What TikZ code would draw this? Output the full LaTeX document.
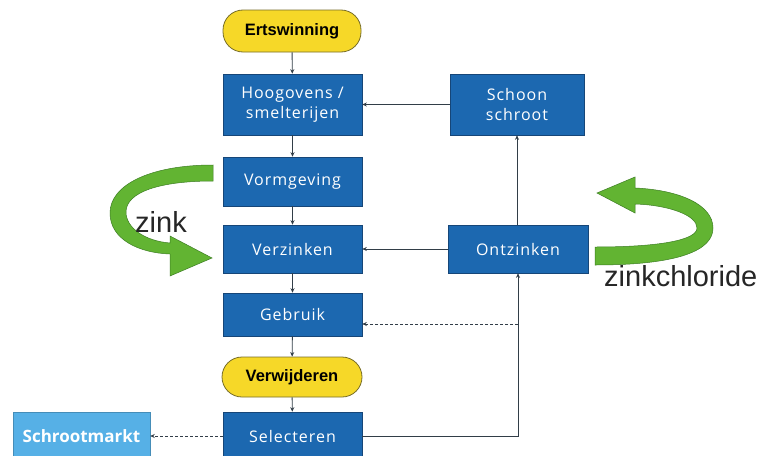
\documentclass[tikz,border=0pt]{standalone}
\usepackage{fontspec}
\setmainfont{Liberation Sans}
\newfontfamily\boxfont[LetterSpace=6]{Open Sans}
\newfontfamily\markfont{Open Sans}
\usetikzlibrary{arrows.meta}
\definecolor{boxblue}{RGB}{28,104,176}
\definecolor{boxedge}{RGB}{22,70,120}
\definecolor{lightblue}{RGB}{86,176,230}
\definecolor{pillyellow}{RGB}{246,216,40}
\definecolor{pilledge}{RGB}{120,110,40}
\definecolor{linecol}{RGB}{50,62,72}
\definecolor{ribbongreen}{RGB}{98,180,50}
\definecolor{ribbonedge}{RGB}{60,125,35}
\tikzset{
  bluebox/.style={draw=boxedge, line width=0.6pt, fill=boxblue, text=white,
    font=\boxfont\fontsize{16}{20}\selectfont, align=center, inner sep=0pt},
  pill/.style={draw=pilledge, line width=0.8pt, fill=pillyellow, rounded corners=20pt,
    font=\bfseries\fontsize{16.5}{18}\selectfont, inner sep=0pt},
  marketbox/.style={draw=lightblue!80!black, line width=0.5pt, fill=lightblue, text=white,
    font=\markfont\bfseries\fontsize{17}{20}\selectfont, inner sep=0pt},
  conn/.style={draw=linecol, line width=0.9pt, -{Stealth[length=4.5pt,width=4pt]}},
  dconn/.style={conn, dash pattern=on 3pt off 2pt},
  ribbon/.style={fill=ribbongreen, draw=ribbonedge, line width=0.5pt},
  biglabel/.style={font=\fontsize{29}{32}\selectfont, text=black!85, inner sep=0pt}
}
\begin{document}
\begin{tikzpicture}[x=1pt,y=-1pt]
\useasboundingbox (0,0) rectangle (760,455);
\clip (0,0) rectangle (760,455);
\fill[white] (0,0) rectangle (760,455);

% nodes
\node[pill, minimum width=138pt, minimum height=42pt] (ert) at (292,31) {Ertswinning};
\node[bluebox, minimum width=139pt, minimum height=61pt] (hoog) at (292.5,104.5) {Hoogovens /\\smelterijen};
\node[bluebox, minimum width=134pt, minimum height=61pt] (schoon) at (517,104.5) {Schoon\\schroot};
\node[bluebox, minimum width=139pt, minimum height=49pt] (vorm) at (292.5,181.5) {Vormgeving};
\node[bluebox, minimum width=139pt, minimum height=48pt] (verz) at (292.5,249) {Verzinken};
\node[bluebox, minimum width=140pt, minimum height=48pt] (ontz) at (518,249) {Ontzinken};
\node[bluebox, minimum width=139pt, minimum height=43pt] (gebr) at (292.5,314.5) {Gebruik};
\node[pill, minimum width=140pt, minimum height=40pt] (verw) at (292,377) {Verwijderen};
\node[bluebox, minimum width=139pt, minimum height=48pt] (sel) at (292.5,436) {Selecteren};
\node[marketbox, minimum width=137pt, minimum height=48pt] (markt) at (81.5,436) {Schrootmarkt};

% main flow
\draw[conn] (ert) -- (hoog);
\draw[conn] (hoog) -- (vorm);
\draw[conn] (vorm) -- (verz);
\draw[conn] (verz) -- (gebr);
\draw[conn] (gebr) -- (verw);
\draw[conn] (verw) -- (sel);

% recycling
\draw[conn] (schoon) -- (hoog);
\draw[conn] (ontz.north -| schoon.south) -- (schoon.south);
\draw[conn] (ontz) -- (verz);
\coordinate (corner) at (ontz.south |- sel.east);
\draw[conn] (sel.east) -- (corner) -- (ontz.south);
\coordinate (dstart) at (518,324);
\draw[dconn] (dstart) -- (dstart -| gebr.east);
\draw[dconn] (sel.west) -- (markt.east);

% left green ribbon arrow (zink)
\path[ribbon] (213,165) .. controls (150,165) and (110,185) .. (110,213)
  .. controls (110,240) and (140,253) .. (170,254)
  -- (170,276) -- (212,258) -- (170,236) -- (170,243)
  .. controls (145,241) and (126,228) .. (126,212)
  .. controls (126,192) and (160,181) .. (213,181) -- cycle;
\node[biglabel, anchor=base west] (zink) at (135,232) {zink};

% right green ribbon arrow (zinkchloride)
\path[ribbon] (595,265) .. controls (680,265) and (713,250) .. (713,228)
  .. controls (713,205) and (680,190) .. (635,188)
  -- (635,177) -- (597,193) -- (635,213) -- (635,204)
  .. controls (668,205) and (697,215) .. (697,228)
  .. controls (697,240) and (660,247) .. (595,247) -- cycle;
\node[biglabel, anchor=base west] (zincl) at (604,286) {zinkchloride};
\end{tikzpicture}
\end{document}
